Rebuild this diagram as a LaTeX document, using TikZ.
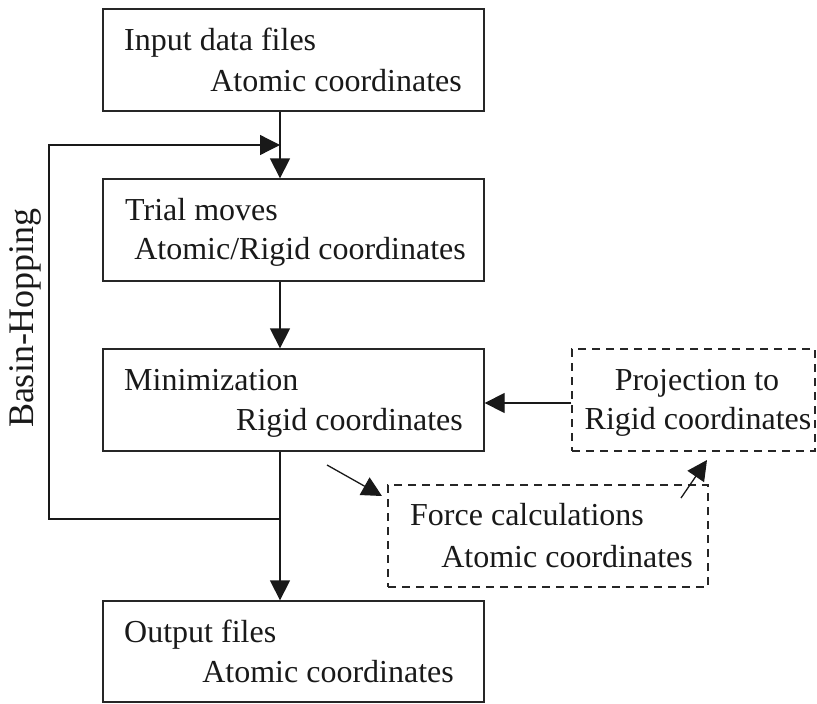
\documentclass[tikz,border=0pt]{standalone}
\usepackage{fontspec}
\setmainfont{Liberation Serif}
\usetikzlibrary{arrows.meta}

\begin{document}
\begin{tikzpicture}[x=1pt, y=-1pt,
    box/.style={draw=black!85, line width=1.3pt, inner sep=0pt,
      minimum width=381pt, minimum height=102pt},
    dbox/.style={box, dash pattern=on 8pt off 6pt},
    txt/.style={inner sep=0pt, text=black!90, font=\fontsize{32}{40}\selectfont},
    flow/.style={draw=black!90, line width=1.3pt},
    arr/.style={flow, -{Triangle[length=20pt, width=20pt]}}]
          \useasboundingbox (0,0) rectangle (817,704);

          % Boxes
          \node [box] (input) at (293.5, 60) {};
          \node [box] (trial) at (293.5, 230) {};
          \node [box] (minim) at (293.5, 400) {};
          \node [box, minimum height=101pt] (output) at (293.5, 651.5) {};
          \node [dbox, minimum width=320pt] (force) at (548, 536) {};
          \node [dbox, minimum width=243pt] (proj) at (693.5, 400) {};

          % Texts
          \node [txt, anchor=base west] (input-a) at (124, 50) {Input data files};
          \node [txt, anchor=base east] (input-b) at (462, 91) {Atomic coordinates};
          \node [txt, anchor=base west] (trial-a) at (125, 220) {Trial moves};
          \node [txt, anchor=base east] (trial-b) at (466, 259) {Atomic/Rigid coordinates};
          \node [txt, anchor=base west] (minim-a) at (124, 390) {Minimization};
          \node [txt, anchor=base east] (minim-b) at (463, 430) {Rigid coordinates};
          \node [txt, anchor=base west] (output-a) at (124, 642) {Output files};
          \node [txt, anchor=base east] (output-b) at (454, 682) {Atomic coordinates};
          \node [txt, anchor=base west] (force-a) at (410, 525) {Force calculations};
          \node [txt, anchor=base east] (force-b) at (693, 567) {Atomic coordinates};
          \node [txt, anchor=base] (proj-a) at (697, 390) {Projection to};
          \node [txt, anchor=base] (proj-b) at (698, 429) {Rigid coordinates};
          \node [txt, rotate=90, font=\fontsize{36}{40}\selectfont] (basin) at (25, 318) {Basin-Hopping};

          % Main line
          \coordinate (spine) at (280, 0);
          \coordinate (loopjoin) at (280, 519);
          \coordinate (loopleft) at (49, 519);
          \coordinate (loopin) at (280, 145);
          \draw [arr] (input.south -| spine) -- (trial.north -| spine);
          \draw [arr] (trial.south -| spine) -- (minim.north -| spine);
          \draw [arr] (minim.south -| spine) -- (output.north -| spine);
          \draw [arr] (loopjoin) -- (loopleft) |- (loopin);

          % Force loop
          \coordinate (mf-a) at (327, 465);
          \coordinate (mf-b) at (382, 496);
          \coordinate (fp-a) at (681, 498);
          \coordinate (fp-b) at (707, 460);
          \draw [arr] ([yshift=-3pt]proj.west) -- ([yshift=-3pt]minim.east);
          \draw [arr] (mf-a) -- (mf-b);
          \draw [arr] (fp-a) -- (fp-b);
        \end{tikzpicture}
\end{document}
